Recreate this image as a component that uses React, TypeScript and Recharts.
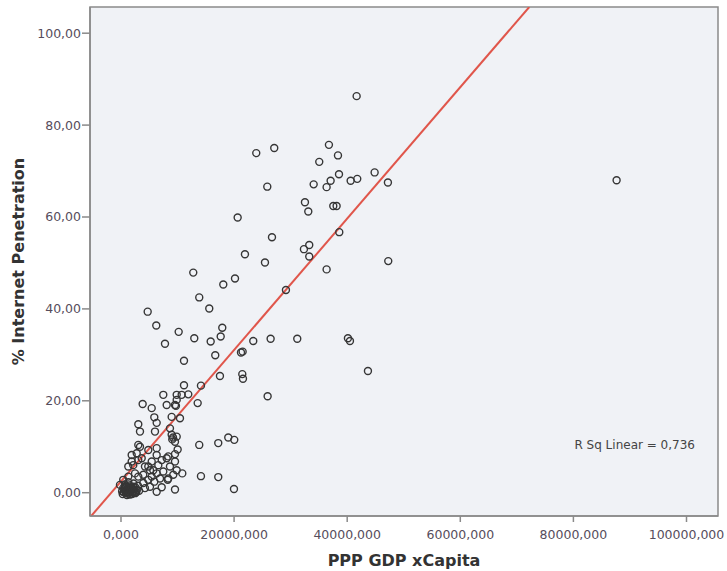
import {
  ScatterChart,
  Scatter,
  XAxis,
  YAxis,
  CartesianGrid,
  ReferenceLine,
  ReferenceArea,
  ReferenceDot,
  Label,
} from "recharts";

// PPP GDP per capita (x) and % internet penetration (y)
const GDP_PER_CAPITA = [
  41670, 36770, 27100, 23920, 38370, 35060, 44850, 38550, 41780, 40610,
  37070, 87640, 47200, 34070, 25870, 36360, 32530, 33120, 37540, 38130,
  20630, 38600, 26700, 33290, 32350, 21920, 33290, 47260, 25460, 36360,
  12780, 20160, 18090, 29170, 13840, 15610, 4720, 6240, 17910, 10200,
  17630, 12960, 26460, 31170, 40130, 40490, 23390, 15860, 7780, 21510,
  21220, 16670, 11140, 43670, 21450, 17500, 21570, 11140, 14140, 7480,
  9850, 10730, 11900, 25930, 9850, 3830, 13560, 8080, 9550, 9720,
  5430, 5890, 8960, 10430, 6310, 3060, 8660, 6010, 3360, 8960,
  9850, 9070, 9550, 18970, 20030, 13840, 17200, 3060, 6310, 4830,
  10020, 9550, 1890, 2780, 3660, 7200, 8080, 8660, 9550, 9850,
  1290, 2170, 4830, 5710, 6310, 10840, 7480, 8260, 6900, 5890,
  4830, 14140, 17200, 9550, 19980, 400, -180, 3060, 3940, 1290,
  2480, 5130, 4240, 6310, 7200, 9200, 6310, 5430, 6600, 8360,
  9250, 8360, 3360, 3060, 1890, 4240, 5130, 5430, 3940,
  200, 500, 800, 1100, 1400, 1700, 2000, 2300, 2600, 900,
  1500, 600, 300, 1200, 1800, 2100, 2500, 1000, 700, 2800,
  1600, 400, 3000, 2200, 1300, 650, 950, 1250, 1550, 1850,
  2150, 2450, 750, 1050, 1350, 1650, 1950, 2250, 2700, 3200,
];

const INTERNET_PCT = [
  86.3, 75.7, 75.0, 73.9, 73.4, 72.0, 69.7, 69.3, 68.3, 67.9,
  67.9, 68.0, 67.5, 67.1, 66.6, 66.5, 63.2, 61.2, 62.4, 62.4,
  59.9, 56.7, 55.6, 53.9, 53.0, 51.9, 51.4, 50.4, 50.1, 48.6,
  47.9, 46.6, 45.3, 44.1, 42.5, 40.1, 39.4, 36.4, 35.9, 35.0,
  34.0, 33.6, 33.5, 33.5, 33.6, 33.0, 33.0, 32.9, 32.4, 30.7,
  30.5, 29.9, 28.7, 26.5, 25.8, 25.4, 24.8, 23.4, 23.3, 21.3,
  21.3, 21.3, 21.4, 21.0, 20.2, 19.3, 19.5, 19.1, 19.1, 18.9,
  18.4, 16.4, 16.5, 16.2, 15.2, 14.9, 14.0, 13.3, 13.3, 12.6,
  12.2, 11.6, 11.1, 12.0, 11.5, 10.4, 10.8, 10.4, 9.7, 9.3,
  9.4, 8.4, 8.2, 8.6, 7.5, 7.1, 7.5, 5.7, 6.8, 4.9,
  5.7, 6.0, 5.7, 4.9, 4.2, 4.2, 4.6, 2.8, 3.1, 2.4,
  2.8, 3.6, 3.4, 0.7, 0.8, 2.8, 1.7, 3.5, 3.9, 3.5,
  4.2, 1.3, 1.0, 0.2, 1.2, 12.0, 8.2, 6.8, 6.0, 7.9,
  3.9, 3.1, 10.0, 7.1, 6.8, 5.7, 4.9, 3.5, 2.1,
  0.3, 0.1, 0.5, 0.2, 0.6, 0.3, 0.9, 0.4, 1.1, 1.3,
  1.6, 0.9, -0.3, -0.2, 1.2, 0.0, -0.1, 0.7, 1.8, 0.6,
  -0.4, 1.0, 1.5, 2.0, 2.3, 0.4, 0.0, 0.8, 0.1, 0.5,
  0.7, 0.2, 1.4, -0.5, 1.1, 0.9, -0.3, 1.3, 0.1, 0.4,
];

const X_TICKS = [0, 20000, 40000, 60000, 80000, 100000];
const Y_TICKS = [0, 20, 40, 60, 80, 100];
const X_DOMAIN = [-5480, 105570];
const Y_DOMAIN = [-5.07, 105.7];

// linear fit, R² = 0.736
const FIT_INTERCEPT = 2.46;
const FIT_SLOPE = 0.00143;
const R_SQ_LABEL = "R Sq Linear = 0,736";

const points = GDP_PER_CAPITA.map((x, i) => ({ x, y: INTERNET_PCT[i] }));

const fitStartX = (Y_DOMAIN[0] - FIT_INTERCEPT) / FIT_SLOPE;
const fitEndX = (Y_DOMAIN[1] - FIT_INTERCEPT) / FIT_SLOPE;

const FRAME = "#8a8a8a";
const TICK_STYLE = { fontSize: 12.5, fill: "#564d5c", fontFamily: "DejaVu Sans" };
const TITLE_STYLE = { fontSize: 16, fontWeight: "bold", fill: "#333", fontFamily: "DejaVu Sans" };

function RingDot(props: { cx?: number; cy?: number }) {
  const { cx, cy } = props;
  if (cx == null || cy == null) return null;
  return <circle cx={cx} cy={cy} r={3.5} fill="none" stroke="#363636" strokeWidth={1.4} />;
}

export default function App() {
  return (
    <div style={{ position: "absolute", left: 0, top: 0, background: "#fff" }}>
      <ScatterChart
        width={727}
        height={571}
        margin={{ top: 7, right: 9, bottom: 0, left: 0 }}
      >
        <CartesianGrid horizontal={false} vertical={false} fill="#f0f2f6" />
        <ReferenceArea
          x1={X_DOMAIN[0]}
          x2={X_DOMAIN[1]}
          y1={Y_DOMAIN[0]}
          y2={Y_DOMAIN[1]}
          fill="none"
          stroke={FRAME}
          strokeWidth={1.5}
        />
        <XAxis
          type="number"
          dataKey="x"
          domain={X_DOMAIN}
          ticks={X_TICKS}
          allowDataOverflow
          height={55}
          tickSize={6}
          tickMargin={8}
          tick={TICK_STYLE}
          tickFormatter={(v) => `${v},000`}
          stroke={FRAME}
          axisLine={{ stroke: FRAME, strokeWidth: 1.5 }}
          tickLine={{ stroke: FRAME, strokeWidth: 1.5 }}
        >
          <Label value="PPP GDP xCapita" position="insideBottom" offset={5} style={TITLE_STYLE} />
        </XAxis>
        <YAxis
          type="number"
          dataKey="y"
          domain={Y_DOMAIN}
          ticks={Y_TICKS}
          allowDataOverflow
          width={90}
          tickSize={8}
          tickMargin={1}
          tick={TICK_STYLE}
          tickFormatter={(v) => `${v},00`}
          stroke={FRAME}
          axisLine={{ stroke: FRAME, strokeWidth: 1.5 }}
          tickLine={{ stroke: FRAME, strokeWidth: 1.5 }}
        >
          <Label
            value="% Internet Penetration"
            angle={-90}
            position="insideLeft"
            offset={18}
            style={{ ...TITLE_STYLE, textAnchor: "middle" }}
          />
        </YAxis>
        <Scatter data={points} shape={<RingDot />} isAnimationActive={false} />
        <ReferenceLine
          segment={[
            { x: fitStartX, y: FIT_INTERCEPT + FIT_SLOPE * fitStartX },
            { x: fitEndX, y: FIT_INTERCEPT + FIT_SLOPE * fitEndX },
          ]}
          stroke="#e0564b"
          strokeWidth={2}
          ifOverflow="hidden"
        />
        <ReferenceDot
          x={101500}
          y={10.4}
          r={0}
          fill="none"
          stroke="none"
          label={{
            value: R_SQ_LABEL,
            position: "left",
            offset: 0,
            style: { fontSize: 12, fill: "#444", fontFamily: "DejaVu Sans" },
          }}
        />
      </ScatterChart>
    </div>
  );
}
